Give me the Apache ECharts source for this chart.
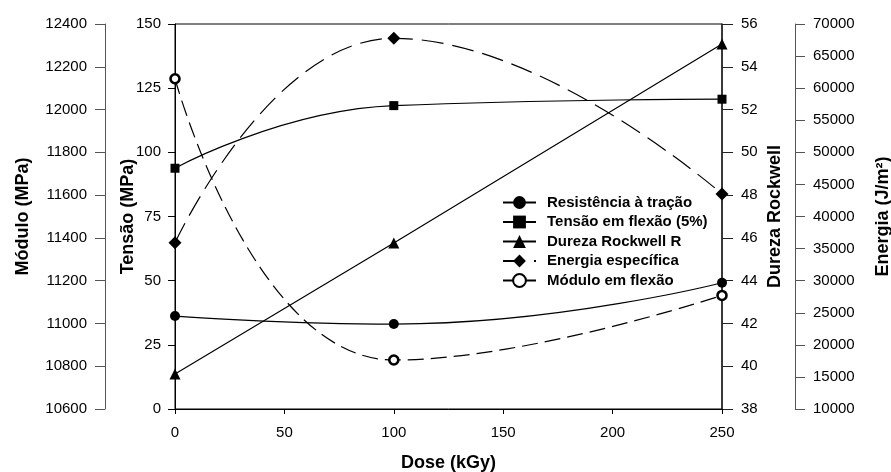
<!DOCTYPE html>
<html>
<head>
<meta charset="utf-8">
<script src="https://cdn.jsdelivr.net/npm/echarts@6/dist/echarts.min.js"></script>
<style>
  html, body { margin: 0; padding: 0; background: #fff; }
  #chart { width: 891px; height: 472px; }
</style>
</head>
<body>
<div id="chart"></div>
<script>
// ---- data ----
const doses = [0, 100, 250];
const resistenciaTracao = [36.2, 33.1, 49.2];      // Tensão (MPa)
const tensaoFlexao = [93.8, 118.2, 120.7];         // Tensão (MPa)
const durezaRockwell = [39.64, 45.76, 55.07];      // Dureza Rockwell
const energiaEspecifica = [35900, 67770, 43500];   // Energia (J/m²)
const moduloFlexao = [12144, 10829, 11131];        // Módulo (MPa)

const seriesNames = ['Resistência à tração', 'Tensão em flexão (5%)', 'Dureza Rockwell R', 'Energia específica', 'Módulo em flexão'];

// axis ranges [min, max, interval]
const doseAxis = [0, 250, 50];
const tensaoAxis = [0, 150, 25];
const moduloAxis = [10600, 12400, 200];
const durezaAxis = [38, 56, 2];
const energiaAxis = [10000, 70000, 5000];

const FONT = '"Liberation Sans", Arial, sans-serif';
const pairs = (ys) => doses.map((d, i) => [d, ys[i]]);

const labelStyle = { color: '#000', fontSize: 15, fontFamily: FONT, formatter: (v) => String(v) };
const nameStyle = { color: '#000', fontSize: 18, fontWeight: 'bold', fontFamily: FONT };

function yAxis(range, opts) {
  return Object.assign({
    type: 'value',
    min: range[0], max: range[1], interval: range[2],
    nameLocation: 'middle',
    nameRotate: 90,
    nameMoveOverlap: false,
    nameTextStyle: nameStyle,
    splitLine: { show: false },
    axisLine: { show: true, lineStyle: { color: '#000', width: 1 } },
    axisTick: { show: true, inside: false, length: 10, lineStyle: { color: '#000', width: 1 } },
  }, opts);
}

const chart = echarts.init(document.getElementById('chart'), null, { renderer: 'canvas' });

chart.setOption({
  animation: false,
  backgroundColor: '#fff',
  grid: {
    left: 175, right: 169, top: 24, bottom: 63,
    containLabel: false, outerBoundsMode: 'none',
    show: true, borderColor: '#000', borderWidth: 1
  },
  xAxis: {
    type: 'value',
    min: doseAxis[0], max: doseAxis[1], interval: doseAxis[2],
    name: 'Dose (kGy)',
    nameLocation: 'middle',
    nameGap: 45,
    nameMoveOverlap: false,
    nameTextStyle: nameStyle,
    splitLine: { show: false },
    axisLine: { show: true, onZero: false, lineStyle: { color: '#000', width: 1 } },
    axisTick: { show: true, length: 5, lineStyle: { color: '#000' } },
    axisLabel: Object.assign({ margin: 16 }, labelStyle),
  },
  yAxis: [
    yAxis(tensaoAxis, {
      position: 'left', name: 'Tensão (MPa)', nameGap: 38,
      axisTick: { show: true, length: 7, lineStyle: { color: '#000' } },
      axisLabel: Object.assign({ margin: 14 }, labelStyle),
    }),
    yAxis(moduloAxis, {
      position: 'left', offset: 70, name: 'Módulo (MPa)', nameGap: 73,
      axisLine: { show: true, lineStyle: { color: '#555', width: 1 } },
      axisTick: { show: true, length: 10, lineStyle: { color: '#555' } },
      axisLabel: Object.assign({ margin: 18 }, labelStyle),
    }),
    yAxis(durezaAxis, {
      position: 'right', name: 'Dureza Rockwell', nameGap: 44,
      axisLine: { show: true, lineStyle: { color: '#222', width: 1.5 } },
      axisTick: { show: true, length: 11, lineStyle: { color: '#222' } },
      axisLabel: Object.assign({ margin: 19 }, labelStyle),
    }),
    yAxis(energiaAxis, {
      position: 'right', offset: 73, name: 'Energia (J/m²)', nameGap: 79,
      axisLine: { show: true, lineStyle: { color: '#555', width: 1 } },
      axisTick: { show: true, length: 10, lineStyle: { color: '#555' } },
      axisLabel: Object.assign({ margin: 18 }, labelStyle),
    }),
  ],
  legend: {
    orient: 'vertical',
    left: 497,
    top: 190,
    padding: 5,
    itemWidth: 33,
    itemHeight: 16,
    itemGap: 4.5,
    data: seriesNames.map((n, i) => (i === 4 ? { name: n, lineStyle: { type: 'solid' } } : { name: n })),
    textStyle: { color: '#000', fontSize: 15, fontWeight: 'bold', fontFamily: FONT, lineHeight: 15, padding: [0, 0, 0, 6] },
  },
  series: [
    {
      name: seriesNames[0], type: 'line', yAxisIndex: 0, data: pairs(resistenciaTracao),
      smooth: true, symbol: 'circle', symbolSize: 10,
      lineStyle: { color: '#000', width: 1.2 }, itemStyle: { color: '#000' },
    },
    {
      name: seriesNames[1], type: 'line', yAxisIndex: 0, data: pairs(tensaoFlexao),
      smooth: true, symbol: 'rect', symbolSize: 9,
      lineStyle: { color: '#000', width: 1.2 }, itemStyle: { color: '#000' },
    },
    {
      name: seriesNames[2], type: 'line', yAxisIndex: 2, data: pairs(durezaRockwell),
      smooth: false, symbol: 'triangle', symbolSize: 11,
      lineStyle: { color: '#000', width: 1.2 }, itemStyle: { color: '#000' },
    },
    {
      name: seriesNames[3], type: 'line', yAxisIndex: 3, data: pairs(energiaEspecifica),
      smooth: true, symbol: 'diamond', symbolSize: 13,
      lineStyle: { color: '#000', width: 1.2, type: [22, 9] }, itemStyle: { color: '#000' },
    },
    {
      name: seriesNames[4], type: 'line', yAxisIndex: 1, data: pairs(moduloFlexao),
      smooth: true, symbol: 'circle', symbolSize: 9,
      lineStyle: { color: '#000', width: 1.2, type: [16, 7] },
      itemStyle: { color: '#fff', borderColor: '#000', borderWidth: 2.6 },
    },
  ],
});
</script>
</body>
</html>
